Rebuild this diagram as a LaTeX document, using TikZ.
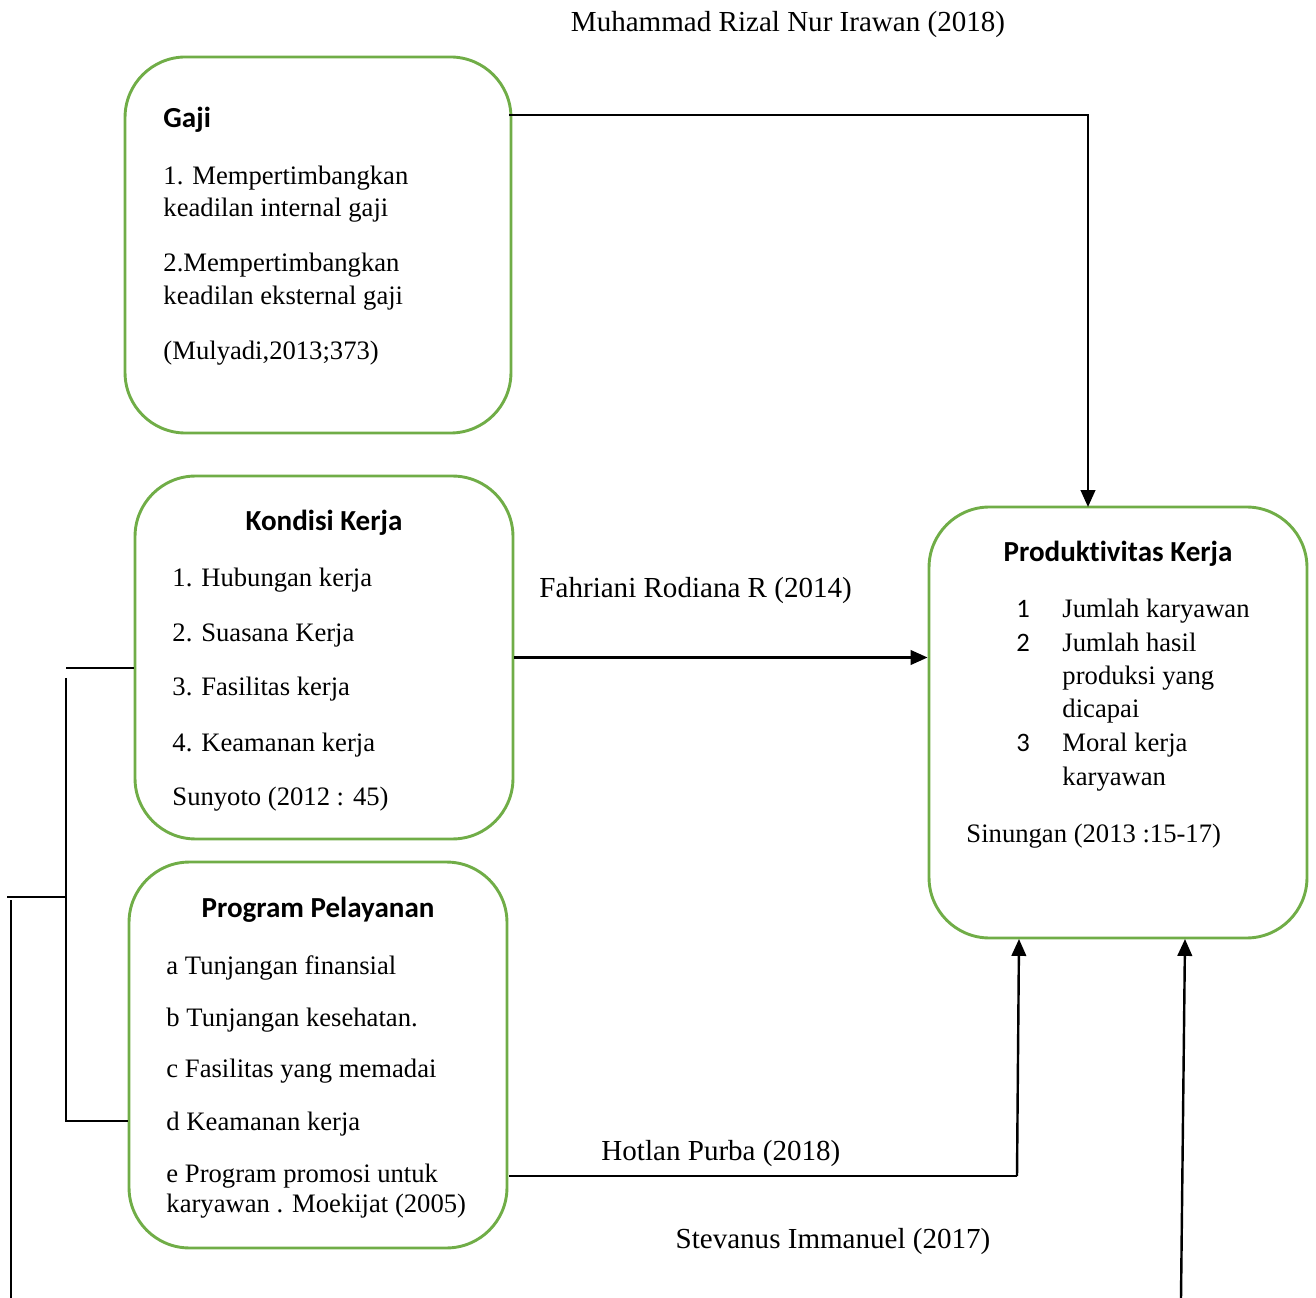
\documentclass[tikz,border=0pt]{standalone}
\usepackage{fontspec}
\setmainfont{Liberation Serif}
\newfontfamily\headfont[Ligatures={NoCommon,NoRare,NoContextual}]{Carlito}
\usetikzlibrary{arrows.meta}

\definecolor{boxgreen}{RGB}{112,173,71}

\tikzset{
    box/.style={draw=boxgreen, line width=1.2pt, rounded corners=25pt, inner sep=0pt},
    head/.style={font=\headfont\bfseries\fontsize{12}{14}\selectfont, inner sep=0pt, anchor=base},
    item/.style={font=\fontsize{11}{13}\selectfont, inner sep=0pt, anchor=base west},
    num/.style={font=\headfont\fontsize{11}{13}\selectfont, inner sep=0pt, anchor=base west},
    cite/.style={font=\fontsize{12}{14}\selectfont, inner sep=0pt, anchor=base west},
    arr/.style={line width=1pt, -{Triangle[length=7pt,width=6pt]}},
    thin line/.style={line width=0.6pt}
}

\begin{document}
\begin{tikzpicture}[x=0.413pt, y=-0.413pt]
        \useasboundingbox (0,0) rectangle (1316,1298);
        % Boxes
        \node (gaji) at (318, 245) [box, minimum width=159.4pt, minimum height=155.3pt] {};
        \node (kondisi) at (324, 657.5) [box, minimum width=156.1pt, minimum height=149.9pt] {};
        \node (program) at (318, 1055) [box, minimum width=156.1pt, minimum height=159.4pt] {};
        \node (prod) at (1118, 722.5) [box, minimum width=156.1pt, minimum height=178pt] {};
        % Gaji
        \node (gajihead) at (163, 128) [head, anchor=base west] {Gaji};
        \node (gaji1a) at (163, 185) [item] {1. Mempertimbangkan};
        \node (gaji1b) at (163, 217) [item] {keadilan internal gaji};
        \node (gaji2a) at (163, 272) [item] {2.Mempertimbangkan};
        \node (gaji2b) at (163, 305) [item] {keadilan eksternal gaji};
        \node (gajisrc) at (163, 360) [item] {(Mulyadi,2013;373)};
        % Kondisi Kerja
        \node (kondisihead) at (324, 531) [head] {Kondisi Kerja};
        \node (kondisi1) at (172, 587) [item] {1. Hubungan kerja};
        \node (kondisi2) at (172, 642) [item] {2. Suasana Kerja};
        \node (kondisi3) at (172, 696) [item] {3. Fasilitas kerja};
        \node (kondisi4) at (172, 751) [item] {4. Keamanan kerja};
        \node (kondisisrc) at (172, 805) [item] {Sunyoto (2012 : 45)};
        % Program Pelayanan
        \node (programhead) at (318, 917) [head] {Program Pelayanan};
        \node (programa) at (166, 974) [item] {a Tunjangan finansial};
        \node (programb) at (166, 1026) [item] {b Tunjangan kesehatan.};
        \node (programc) at (166, 1077) [item] {c Fasilitas yang memadai};
        \node (programd) at (166, 1130) [item] {d Keamanan kerja};
        \node (programe) at (166, 1182) [item] {e Program promosi untuk};
        \node (programsrc) at (166, 1212) [item] {karyawan . Moekijat (2005)};
        % Produktivitas Kerja
        \node (prodhead) at (1118, 562) [head] {Produkt\kern0pt ivit\kern0pt as Kerja};
        \node (prodn1) at (1016, 618) [num] {1};
        \node (prodn2) at (1016, 652) [num] {2};
        \node (prodn3) at (1016, 752) [num] {3};
        \node (prod1) at (1062, 618) [item] {Jumlah karyawan};
        \node (prod2a) at (1062, 652) [item] {Jumlah hasil};
        \node (prod2b) at (1062, 685) [item] {produksi yang};
        \node (prod2c) at (1062, 718) [item] {dicapai};
        \node (prod3a) at (1062, 752) [item] {Moral kerja};
        \node (prod3b) at (1062, 785) [item] {karyawan};
        \node (prodsrc) at (966, 842) [item] {Sinungan (2013 :15-17)};
        % Citations
        \node (muhammad) at (788, 32) [cite, anchor=base] {Muhammad Rizal Nur Irawan (2018)};
        \node (fahriani) at (539, 598) [cite] {Fahriani Rodiana R (2014)};
        \node (hotlan) at (601, 1160) [cite] {Hotlan Purba (2018)};
        \node (stevanus) at (833, 1248) [cite, anchor=base] {Stevanus Immanuel (2017)};
        % Corner points
        \coordinate (gajiout) at (509, 115);
        \coordinate (gajiin) at (1088, 507);
        \coordinate (hotlanout) at (509, 1176);
        \coordinate (hotlanknee) at (1017, 1176);
        \coordinate (hotlanin) at (1019, 939);
        \coordinate (stevout) at (1181, 1298);
        \coordinate (stevin) at (1185, 939);
        \coordinate (l1) at (66, 668);
        \coordinate (l2) at (66, 678);
        \coordinate (l3) at (66, 1121);
        \coordinate (l4) at (7, 897);
        \coordinate (l5) at (11, 900);
        \coordinate (l6) at (11, 1298);
        % Edges
        \draw[arr] (gajiout) -| (gajiin);
        \draw[arr] (kondisi.east) -- (prod.west |- kondisi.east);
        \draw[thin line] (hotlanout) -- (hotlanknee);
        \draw[arr] (hotlanknee) -- (hotlanin);
        \draw[arr] (stevout) -- (stevin);
        \draw[thin line] (l1) -- (kondisi.west |- l1);
        \draw[thin line] (l2) -- (l3) -- (program.west |- l3);
        \draw[thin line] (l4) -- (l2 |- l4);
        \draw[thin line] (l5) -- (l6);
    \end{tikzpicture}
\end{document}
